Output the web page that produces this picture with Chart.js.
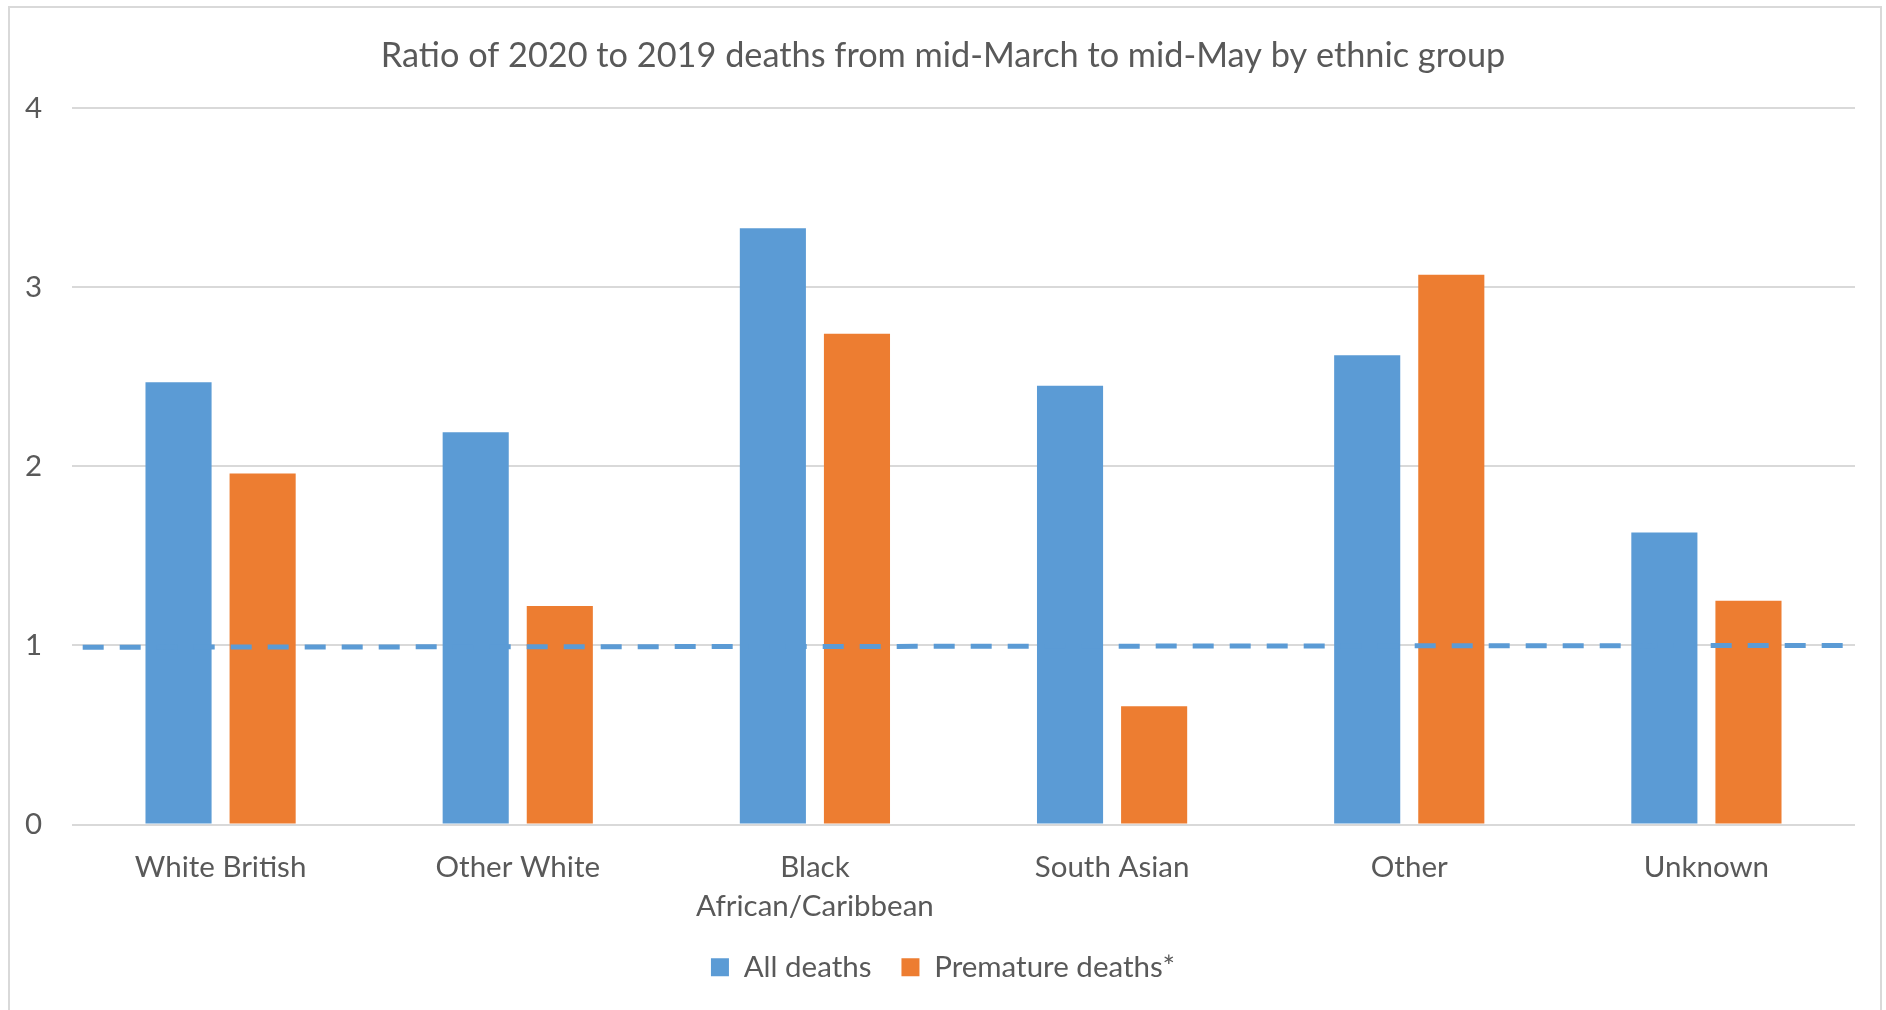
<!DOCTYPE html>
<html>
<head>
<meta charset="utf-8">
<script src="https://cdn.jsdelivr.net/npm/chart.js@4/dist/chart.umd.min.js"></script>
<style>
    html, body { margin: 0; padding: 0; background: #fff; overflow: hidden; }
    #frame { position: absolute; left: 8px; top: 6px; width: 1874px; height: 1100px; border: 2px solid #d9d9d9; box-sizing: border-box; }
    #chart { position: absolute; left: 0; top: 0; }
</style>
</head>
<body>
<div id="frame"></div>
<canvas id="chart" width="1886" height="1010"></canvas>
<script>
// Ratio of 2020 to 2019 deaths, by ethnic group

const TITLE = 'Ratio of 2020 to 2019 deaths from mid-March to mid-May by ethnic group';

const categories = ['White British', 'Other White', ['Black', 'African/Caribbean'], 'South Asian', 'Other', 'Unknown'];
const allDeaths = [2.47, 2.19, 3.33, 2.45, 2.62, 1.63];
const prematureDeaths = [1.96, 1.22, 2.74, 0.66, 3.07, 1.25];

// reference line at ratio 1 (drawn slightly tilted in the original)
const refLineX = [0.006, 1.002];
const refLineY = [0.99, 1.0];

const yTicks = [0, 1, 2, 3, 4];

const TEXT = '#595959';
const GRID = '#d9d9d9';
const FONT = 'Lato';

const ctx = document.getElementById('chart');

new Chart(ctx, {
    type: 'bar',
    data: {
        labels: categories,
        datasets: [
            {
                type: 'line',
                label: 'Ratio 1',
                data: refLineX.map((x, i) => ({ x, y: refLineY[i] })),
                xAxisID: 'x2',
                borderColor: '#5b9bd5',
                borderWidth: 5,
                borderDash: [21, 16],
                pointRadius: 0,
                fill: false,
                clip: false,
                order: 0
            },
            {
                type: 'bar',
                label: 'All deaths',
                data: allDeaths,
                backgroundColor: '#5b9bd5',
                // bars came out half as wide as expected, so doubled here
                categoryPercentage: 1.132,
                barPercentage: 0.786,
                order: 1
            },
            {
                type: 'bar',
                label: 'Premature deaths*',
                data: prematureDeaths,
                backgroundColor: '#ed7d31',
                categoryPercentage: 1.132,
                barPercentage: 0.786,
                order: 1
            }
        ]
    },
    options: {
        responsive: false,
        animation: false,
        devicePixelRatio: 1,
        layout: { padding: { left: 0, right: 0, top: 0, bottom: 18 } },
        plugins: {
            title: {
                display: true,
                text: TITLE,
                color: TEXT,
                font: { family: FONT, size: 34.3, weight: 'normal' },
                padding: { top: 35, bottom: 32 }
            },
            legend: {
                position: 'bottom',
                labels: {
                    color: TEXT,
                    font: { family: FONT, size: 29.5 },
                    boxWidth: 18,
                    boxHeight: 18,
                    padding: 30,
                    filter: item => item.datasetIndex !== 0
                }
            },
            tooltip: { enabled: false }
        },
        scales: {
            x: {
                type: 'category',
                grid: { display: false },
                border: { display: false },
                ticks: {
                    color: TEXT,
                    font: { family: FONT, size: 29.5, lineHeight: 1.3 },
                    padding: 16,
                    maxRotation: 0
                },
                afterFit: scale => { scale.height = 98; }
            },
            x2: {
                type: 'linear',
                position: 'top',
                offset: false,
                bounds: 'data',
                min: 0,
                max: 1,
                grid: { display: false, drawTicks: false },
                border: { display: false },
                ticks: { display: false },
                afterFit: scale => { scale.height = 0; }
            },
            y: {
                min: 0,
                max: 4,
                afterBuildTicks: scale => { scale.ticks = yTicks.map(v => ({ value: v })); },
                grid: { color: GRID, lineWidth: 2, drawTicks: false },
                border: { display: false },
                ticks: {
                    color: TEXT,
                    font: { family: FONT, size: 29.5 },
                    padding: 30
                },
                afterFit: scale => { scale.width = 72; }
            },
            // empty right axis, only keeps the right margin so title and legend stay centred
            yRight: {
                type: 'linear',
                position: 'right',
                min: 0,
                max: 4,
                grid: { display: false, drawTicks: false },
                border: { display: false },
                ticks: { display: false },
                afterFit: scale => { scale.width = 31; }
            }
        }
    }
});
</script>
</body>
</html>
